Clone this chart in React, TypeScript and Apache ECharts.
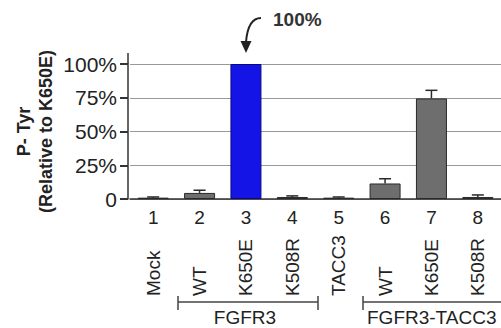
import React, { useEffect, useRef } from "react";
import * as echarts from "echarts";

const laneNumbers = ["1", "2", "3", "4", "5", "6", "7", "8"];
const sampleLabels = ["Mock", "WT", "K650E", "K508R", "TACC3", "WT", "K650E", "K508R"];
const values = [1, 4.5, 100, 1.5, 1, 11.5, 74.5, 1.5];
const errors = [0.5, 2, 0, 0.8, 0.5, 3.5, 6, 1.5];
const yTicks = [0, 25, 50, 75, 100];
const highlightIndex = 2;

const FONT = "Liberation Sans, Arial, Helvetica, sans-serif";

export default function App() {
  const ref = useRef<HTMLDivElement>(null);
  useEffect(() => {
    if (!ref.current) return;
    const chart = echarts.init(ref.current, undefined, { renderer: "svg" });
    const barData = values.map((v, i) =>
      i === highlightIndex
        ? { value: v, itemStyle: { color: "#1414e6", borderColor: "#0a0a80" } }
        : v
    );
    const errData = values.map((v, i) => [i, v, errors[i]]);
    chart.setOption({
      animation: false,
      textStyle: { fontFamily: FONT },
      grid: { left: 130, right: -4, top: 64, bottom: 129, containLabel: false },
      xAxis: [
        {
          type: "category",
          data: laneNumbers,
          axisLine: { show: true, lineStyle: { color: "#333", width: 1.5 } },
          axisTick: { show: false },
          axisLabel: { fontSize: 19, color: "#222", margin: 9, fontFamily: FONT },
        },
        {
          type: "category",
          data: sampleLabels,
          position: "bottom",
          axisLine: { show: false },
          axisTick: { show: false },
          axisLabel: {
            rotate: 90,
            align: "left",
            verticalAlign: "middle",
            margin: 97,
            fontSize: 19,
            color: "#222",
            fontFamily: FONT,
          },
        },
      ],
      yAxis: {
        type: "value",
        min: yTicks[0],
        max: yTicks[yTicks.length - 1],
        interval: 25,
        offset: 2,
        name: "P- Tyr\n(Relative to K650E)",
        nameLocation: "middle",
        nameRotate: 90,
        nameGap: 71,
        nameMoveOverlap: false,
        nameTextStyle: { fontSize: 18, fontWeight: "bold", color: "#222", lineHeight: 22, fontFamily: FONT },
        axisLine: { show: true, lineStyle: { color: "#333", width: 1.5 } },
        axisTick: { show: true, length: 8, lineStyle: { color: "#333", width: 2 } },
        splitLine: { show: true, lineStyle: { color: "#999", width: 1 } },
        axisLabel: {
          fontSize: 21,
          color: "#222",
          margin: 11,
          fontFamily: FONT,
          formatter: (v: number) => (v === 0 ? "0" : v + "%"),
        },
      },
      series: [
        {
          type: "bar",
          data: barData,
          barWidth: 31,
          itemStyle: { color: "#6e6e6e", borderColor: "#2a2a2a", borderWidth: 1 },
          z: 2,
        },
        {
          type: "custom",
          data: errData,
          z: 3,
          renderItem: (params: any, api: any) => {
            const idx = api.value(0);
            const v = api.value(1);
            const e = api.value(2);
            if (!e) return null;
            const base = api.coord([idx, v]);
            const top = api.coord([idx, v + e]);
            const half = 6;
            return {
              type: "group",
              children: [
                {
                  type: "line",
                  shape: { x1: base[0], y1: base[1], x2: top[0], y2: top[1] },
                  style: { stroke: "#2a2a2a", lineWidth: 1.5 },
                },
                {
                  type: "line",
                  shape: { x1: top[0] - half, y1: top[1], x2: top[0] + half, y2: top[1] },
                  style: { stroke: "#2a2a2a", lineWidth: 1.5 },
                },
              ],
            };
          },
        },
      ],
      graphic: [
        {
          type: "line",
          shape: { x1: 128, y1: 53, x2: 128, y2: 64 },
          style: { stroke: "#333", lineWidth: 1.5 },
        },
        {
          type: "bezierCurve",
          shape: { x1: 261, y1: 18, x2: 246, y2: 42, cpx1: 248, cpy1: 18 },
          style: { stroke: "#222", lineWidth: 2, fill: null },
        },
        {
          type: "polygon",
          shape: { points: [[240.5, 41], [251.5, 41], [246, 53]] },
          style: { fill: "#222" },
        },
        {
          type: "text",
          x: 273,
          y: 19,
          style: { text: "100%", font: "bold 19px " + FONT, fill: "#333", textVerticalAlign: "middle" },
        },
        {
          type: "polyline",
          shape: { points: [[178, 296], [178, 310], [178, 302], [318, 302], [318, 296], [318, 310]] },
          style: { stroke: "#444", lineWidth: 1.5, fill: null },
        },
        {
          type: "text",
          x: 245,
          y: 317,
          style: { text: "FGFR3", font: "19px " + FONT, fill: "#222", textAlign: "center", textVerticalAlign: "middle" },
        },
        {
          type: "polyline",
          shape: { points: [[363, 296], [363, 310], [363, 302], [505, 302]] },
          style: { stroke: "#444", lineWidth: 1.5, fill: null },
        },
        {
          type: "text",
          x: 367,
          y: 317,
          style: { text: "FGFR3-TACC3", font: "19px " + FONT, fill: "#222", textAlign: "left", textVerticalAlign: "middle" },
        },
      ],
    });
    return () => chart.dispose();
  }, []);
  return (
    <div
      ref={ref}
      style={{ position: "fixed", left: 0, top: 0, width: 501, height: 328, background: "#fff" }}
    />
  );
}
